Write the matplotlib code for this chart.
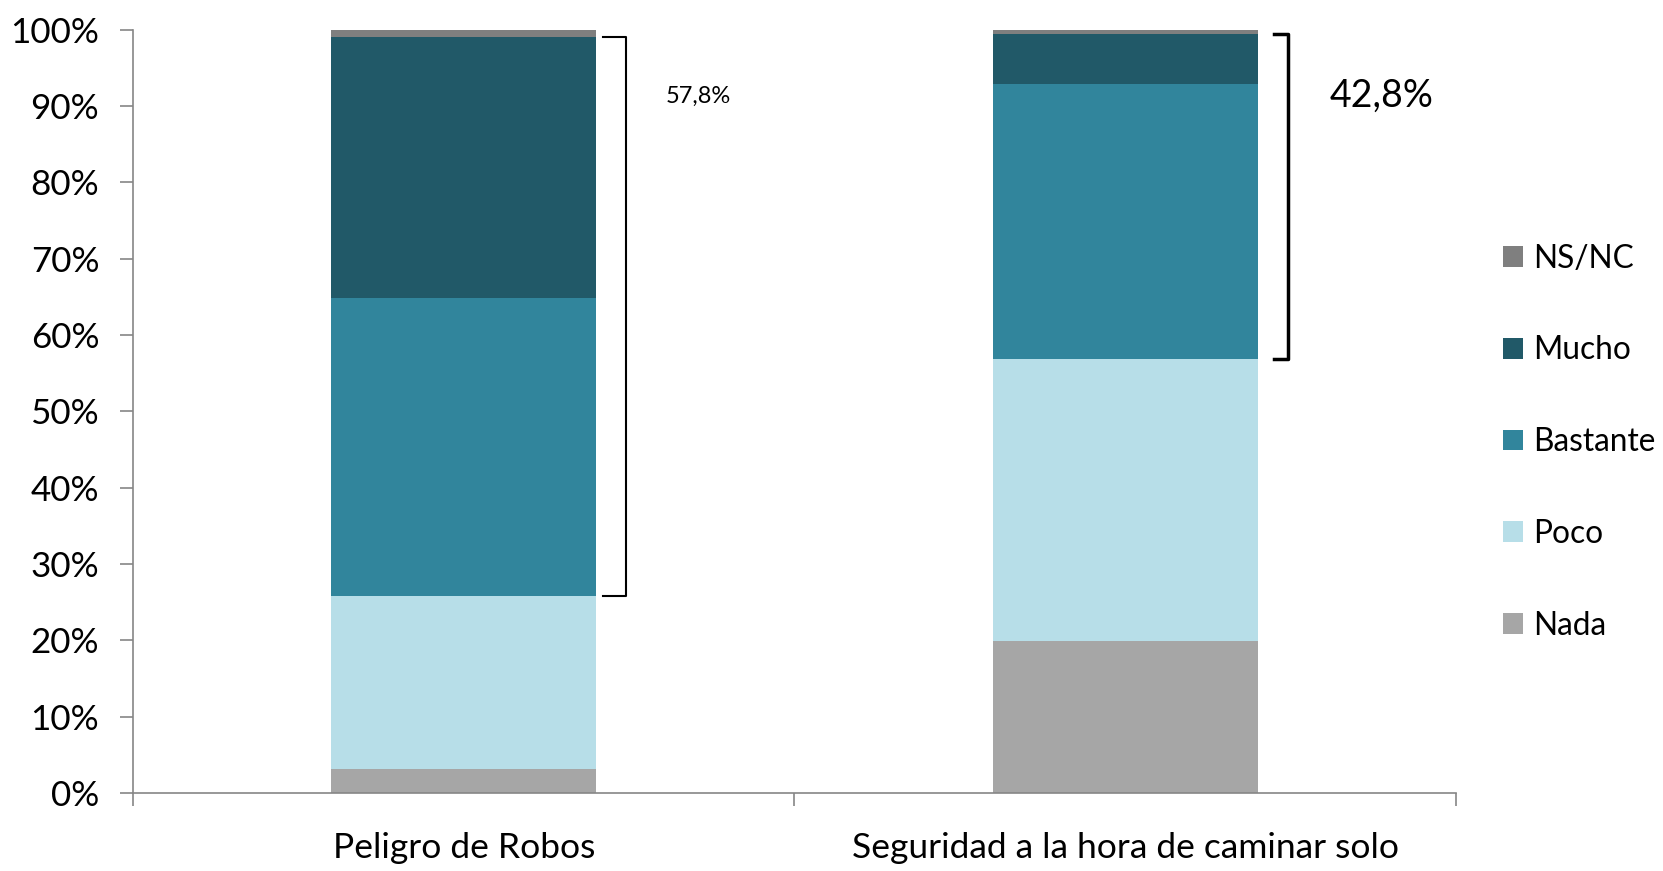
import matplotlib
matplotlib.use("Agg")
import numpy as np
import matplotlib.pyplot as plt
from matplotlib.patches import Patch

plt.rcParams["font.family"] = ["Lato", "DejaVu Sans"]

CATEGORIES = ["Peligro de Robos", "Seguridad a la hora de caminar solo"]
SERIES = ["Nada", "Poco", "Bastante", "Mucho", "NS/NC"]
NADA = [3.2, 19.9]
POCO = [22.6, 36.9]
BASTANTE = [39.0, 36.1]
MUCHO = [34.2, 6.6]
NSNC = [1.0, 0.5]
BRACKET_LABELS = ["57,8%", "42,8%"]

COLORS = ["#A6A6A6", "#B7DEE8", "#31859C", "#215968", "#7F7F7F"]
AXIS_GRAY = "#868686"

fig = plt.figure(figsize=(16.63, 8.71), dpi=100)
ax = fig.add_axes([0.080, 0.0896, 0.7955, 0.8763])

x = np.arange(len(CATEGORIES))
width = 0.4
bottom = np.zeros(len(CATEGORIES))
tops = []
for name, vals, color in zip(SERIES, [NADA, POCO, BASTANTE, MUCHO, NSNC], COLORS):
    ax.bar(x, vals, width, bottom=bottom, color=color, label=name, linewidth=0)
    bottom = bottom + np.array(vals)
    tops.append(bottom.copy())

# brackets around Bastante + Mucho
for i, (off0, off1, lw, fs, tx) in enumerate([(0.011, 0.046, 1.5, 17, 0.355),
                                               (0.025, 0.046, 2.5, 27, 1.388)]):
    ybot = tops[1][i]
    ytop = tops[3][i]
    xr = x[i] + width / 2
    ax.plot([xr + off0, xr + off1, xr + off1, xr + off0],
            [ybot, ybot, ytop, ytop], color="black", lw=lw,
            solid_joinstyle="round", clip_on=False)
    ax.text(tx, 91.3, BRACKET_LABELS[i], ha="center", va="center", fontsize=fs)

ax.set_xlim(-0.5, 1.5)
ax.set_ylim(0, 100)
ax.set_yticks(np.arange(0, 101, 10))
ax.set_yticklabels([f"{v}%" for v in range(0, 101, 10)])
ax.set_xticks(x)
ax.set_xticklabels(CATEGORIES)
ax.set_xticks([-0.5, 0.5, 1.5], minor=True)

ax.tick_params(axis="y", direction="out", length=9.4, width=1.2, color=AXIS_GRAY,
               labelsize=25.2, pad=15)
ax.tick_params(axis="x", which="major", length=0, labelsize=25.5, pad=28)
ax.tick_params(axis="x", which="minor", direction="out", length=9.4, width=1.2,
               color=AXIS_GRAY)

for s in ["top", "right"]:
    ax.spines[s].set_visible(False)
for s in ["left", "bottom"]:
    ax.spines[s].set_color(AXIS_GRAY)
    ax.spines[s].set_linewidth(1.2)

handles = [Patch(facecolor=c, label=n) for n, c in zip(SERIES, COLORS)][::-1]
fig.legend(handles=handles, loc="center left", bbox_to_anchor=(0.904, 0.4925),
           frameon=False, fontsize=22.8, handlelength=0.63, handleheight=0.63,
           handletextpad=0.3, labelspacing=1.95, borderpad=0, borderaxespad=0)

fig.savefig("out.png", dpi=100)
